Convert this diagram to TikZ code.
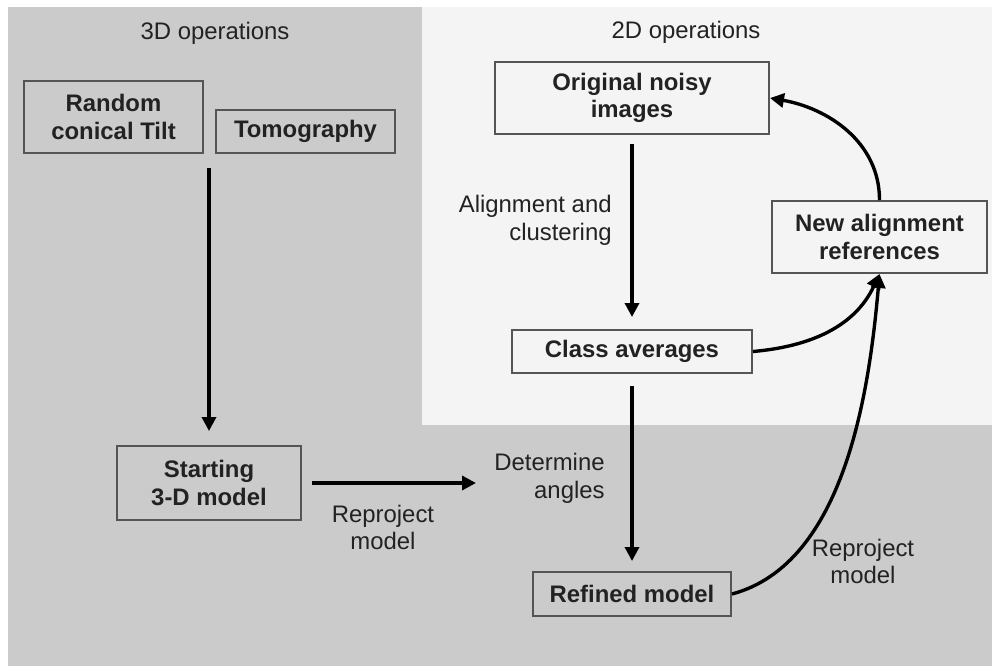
\documentclass[tikz,border=0pt]{standalone}
\usepackage{fontspec}
\setmainfont{Liberation Sans}
\usetikzlibrary{arrows.meta, positioning}
\definecolor{cdark}{HTML}{CBCBCB}
\definecolor{clight}{HTML}{F4F4F4}
\definecolor{cedge}{HTML}{555555}
\definecolor{ctext}{HTML}{222222}
\tikzset{
  every picture/.style={font=\fontsize{17}{19.5}\selectfont, line width=2.4pt},
  box/.style={draw=cedge, line width=1.4pt, align=center, inner sep=2pt, text=ctext, font=\fontsize{17}{19.5}\selectfont\bfseries},
  arrow/.style={-{Triangle[length=3.5mm, width=3.5mm]}, draw=black, line width=2.4pt},
  note/.style={align=center, text=ctext},
}

\begin{document}
\begin{tikzpicture}
  \tikzset{bx/.style 2 args={box, minimum width=#1, minimum height=#2}}
  % backgrounds
  \useasboundingbox (0,0) rectangle (24.8,-16.65);
  \fill[white] (0,0) rectangle (24.8,-16.65);
  \fill[cdark] (0.2,-0.175) rectangle (24.8,-16.65);
  \fill[clight] (10.55,-0.175) rectangle (24.8,-10.625);
  \node[note] (t3d) at (5.375,-0.825) {3D operations};
  \node[note] (t2d) at (17.15,-0.8) {2D operations};

  % 3D side
  \node[bx={4.475cm}{1.8cm}] (rct) at (2.8375,-2.925) {Random\\conical Tilt};
  \node[bx={4.475cm}{1.075cm}] (tomo) at (7.6375,-3.2875) {Tomography};
  \coordinate (src) at (5.225,-4.2);
  \node[bx={4.6cm}{1.85cm}] (start) at (5.225,-12.075) {Starting\\3-D model};
  \coordinate (detend) at (11.9,-12.075);

  % 2D side
  \node[bx={6.85cm}{1.8cm}] (orig) at (15.8,-2.45) {Original noisy\\images};
  \node[bx={6cm}{1.075cm}] (class) at (15.8,-8.7875) {Class averages};
  \node[bx={5.375cm}{1.8cm}] (newref) at (21.9875,-5.925) {New alignment\\references};
  \node[bx={4.95cm}{1.1cm}] (refined) at (15.8,-14.85) {Refined model};

  % labels
  \node[note, align=right, anchor=east] (align) at (15.45,-5.51) {Alignment and\\clustering};
  \node[note, align=right, anchor=east] (angles) at (15.275,-11.96) {Determine\\angles};
  \node[note] (rep1) at (9.575,-13.19) {Reproject\\model};
  \node[note] (rep2) at (21.575,-14.04) {Reproject\\model};

  % connectors
  \draw[arrow, shorten >=0.35cm] (src) -- (start);
  \draw[arrow, shorten <=0.25cm] (start.east) -- (detend);
  \draw[arrow, shorten <=0.225cm, shorten >=0.3cm] (orig) -- (class);
  \draw[arrow, shorten <=0.3cm, shorten >=0.25cm] (class) -- (refined);
  \draw[arrow] (newref.north) to[out=90, in=-10] (orig.east);
  \draw[arrow] (class.east) to[out=5, in=-115] (newref.south);
  \draw[arrow] (refined.east) to[out=15, in=-95, looseness=0.85] (newref.south);
\end{tikzpicture}
\end{document}
